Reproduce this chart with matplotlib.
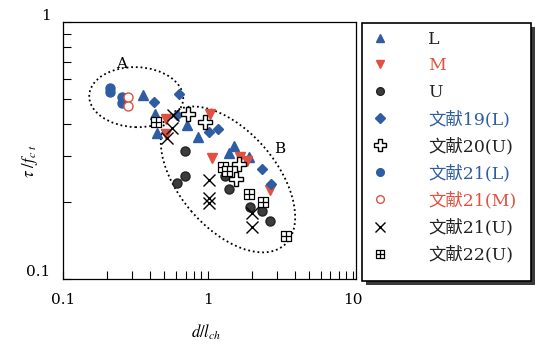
import numpy as np
import matplotlib.pyplot as plt
from matplotlib.path import Path
from matplotlib.patches import Ellipse, Rectangle
from matplotlib.transforms import ScaledTranslation

plt.rcParams['mathtext.fontset'] = 'stix'

# d/lch and tau/fct for each series
L_x = [0.358, 0.431, 0.445, 0.717, 0.853, 1.40, 1.52, 1.92]
L_y = [0.518, 0.439, 0.371, 0.396, 0.356, 0.309, 0.328, 0.298]
M_x = [0.51, 0.513, 1.03, 1.07, 1.66, 1.85, 2.66]
M_y = [0.42, 0.365, 0.437, 0.297, 0.298, 0.287, 0.222]
U_x = [0.694, 0.694, 0.614, 1.32, 1.40, 1.96, 2.36, 2.68]
U_y = [0.314, 0.252, 0.237, 0.252, 0.224, 0.191, 0.184, 0.168]

ref19L_x = [0.425, 0.635, 0.614, 1.02, 1.18, 2.36, 2.71]
ref19L_y = [0.49, 0.525, 0.433, 0.373, 0.384, 0.268, 0.235]
ref20U_x = [0.731, 0.95, 1.64, 1.55]
ref20U_y = [0.438, 0.408, 0.281, 0.245]
ref21L_x = [0.211, 0.211, 0.257, 0.257]
ref21L_y = [0.556, 0.532, 0.511, 0.482]
ref21M_x = [0.282, 0.282]
ref21M_y = [0.511, 0.471]
ref21U_x = [0.575, 0.565, 0.518, 1.02, 1.02, 1.02, 2.01, 2.01]
ref21U_y = [0.433, 0.387, 0.355, 0.242, 0.207, 0.198, 0.181, 0.159]
ref22U_x = [0.438, 1.26, 1.35, 1.92, 2.38, 3.48]
ref22U_y = [0.408, 0.272, 0.264, 0.215, 0.200, 0.147]

labels = ['L', 'M', 'U', '文献19(L)', '文献20(U)', '文献21(L)',
          '文献21(M)', '文献21(U)', '文献22(U)']

blue = '#2e5da3'
red = '#e2513f'
dark = '#3c3c3c'
label_colors = ['#222222', red, '#222222', blue, '#222222', blue, red, '#222222', '#222222']

# square with a cross inside
sq = Path([(-1, -1), (1, -1), (1, 1), (-1, 1), (-1, -1), (0, -1), (0, 1), (-1, 0), (1, 0)],
          [Path.MOVETO, Path.LINETO, Path.LINETO, Path.LINETO, Path.CLOSEPOLY,
           Path.MOVETO, Path.LINETO, Path.MOVETO, Path.LINETO])

fig = plt.figure(figsize=(5.35, 3.45), dpi=100)
ax = fig.add_axes([63/535, 66/345, 293/535, 257/345])
ax.set_xscale('log')
ax.set_yscale('log')

h = []
h += ax.plot(L_x, L_y, '^', ms=7, color=blue, ls='none')
h += ax.plot(M_x, M_y, 'v', ms=7, color=red, ls='none')
h += ax.plot(U_x, U_y, 'o', ms=6.5, mfc=dark, mec='#222222', ls='none')
h += ax.plot(ref19L_x, ref19L_y, 'D', ms=5.5, color=blue, ls='none')
h += ax.plot(ref20U_x, ref20U_y, 'P', ms=10, mfc='white', mec='k', mew=1, ls='none')
h += ax.plot(ref21L_x, ref21L_y, 'o', ms=6.5, color=blue, ls='none')
h += ax.plot(ref21M_x, ref21M_y, 'o', ms=6.5, mfc='white', mec=red, mew=1, ls='none')
h += ax.plot(ref21U_x, ref21U_y, 'x', ms=8, color='k', mew=1, ls='none')
h += ax.plot(ref22U_x, ref22U_y, marker=sq, ms=7.5, mfc='white', mec='k', mew=0.9, ls='none')

# dotted outlines of groups A and B
dots = dict(fill=False, ec='k', lw=1.3, ls=(0, (1, 1.6)))
ax.add_patch(Ellipse((0, 0), 0.94, 0.60, angle=-2,
                     transform=fig.dpi_scale_trans + ScaledTranslation(0.32, 0.51, ax.transData), **dots))
ax.add_patch(Ellipse((0, 0), 1.73, 0.97, angle=-49.5,
                     transform=fig.dpi_scale_trans + ScaledTranslation(1.374, 0.244, ax.transData), **dots))
ax.text(0.254, 0.687, 'A', family='DejaVu Serif', fontsize=11, ha='center', va='center')
ax.text(3.14, 0.321, 'B', family='DejaVu Serif', fontsize=11, ha='center', va='center')

ax.set_xlim(0.1, 10.5)
ax.set_ylim(0.1, 1)
ax.set_xticks([0.1, 1, 10], ['0.1', '1', '10'])
ax.set_yticks([0.1, 1], ['0.1', '1'])
ax.xaxis.set_minor_formatter(plt.NullFormatter())
ax.yaxis.set_minor_formatter(plt.NullFormatter())
ax.tick_params(which='both', direction='in', top=False, right=False, length=5.5, width=0.8)
ax.tick_params(axis='x', pad=10)
ax.tick_params(axis='y', pad=9)
for lbl in ax.get_xticklabels() + ax.get_yticklabels():
    lbl.set_family('DejaVu Serif')
    lbl.set_fontsize(11)
for t in ax.yaxis.get_major_ticks():
    t.label1.set_transform(t.label1.get_transform() + ScaledTranslation(0, 0.08, fig.dpi_scale_trans))
for s in ax.spines.values():
    s.set_linewidth(0.9)

ax.set_xlabel(r'$d/l_{ch}$', fontsize=12)
ax.xaxis.set_label_coords(0.49, -0.17)
ax.set_ylabel(r'$\tau\ /f_{c\ t}$', fontsize=12)
ax.yaxis.set_label_coords(-0.078, 0.46)

leg = fig.legend(h, labels, loc='upper left', bbox_to_anchor=(362/535, 1 - 21/345, 167/535, 0),
                 mode='expand', borderaxespad=0, borderpad=0.56, handlelength=1.0,
                 handletextpad=2.26, labelspacing=0.55, markerscale=0.85, frameon=False,
                 prop={'family': ['DejaVu Serif', 'Noto Sans CJK SC'], 'size': 12.5})
leg.set_zorder(6)
for txt, c in zip(leg.get_texts(), label_colors):
    txt.set_color(c)

# legend box with a drop shadow
box = (362/535, 1 - 281/345, 169/535, 258/345)
fig.add_artist(Rectangle((box[0] + 4/535, box[1] - 4/345), box[2], box[3],
                         transform=fig.transFigure, fc='#3a3a3a', ec='none', zorder=4))
fig.add_artist(Rectangle(box[:2], box[2], box[3], transform=fig.transFigure,
                         fc='white', ec='k', lw=1.2, zorder=5))

fig.savefig('out.png', dpi=100)
